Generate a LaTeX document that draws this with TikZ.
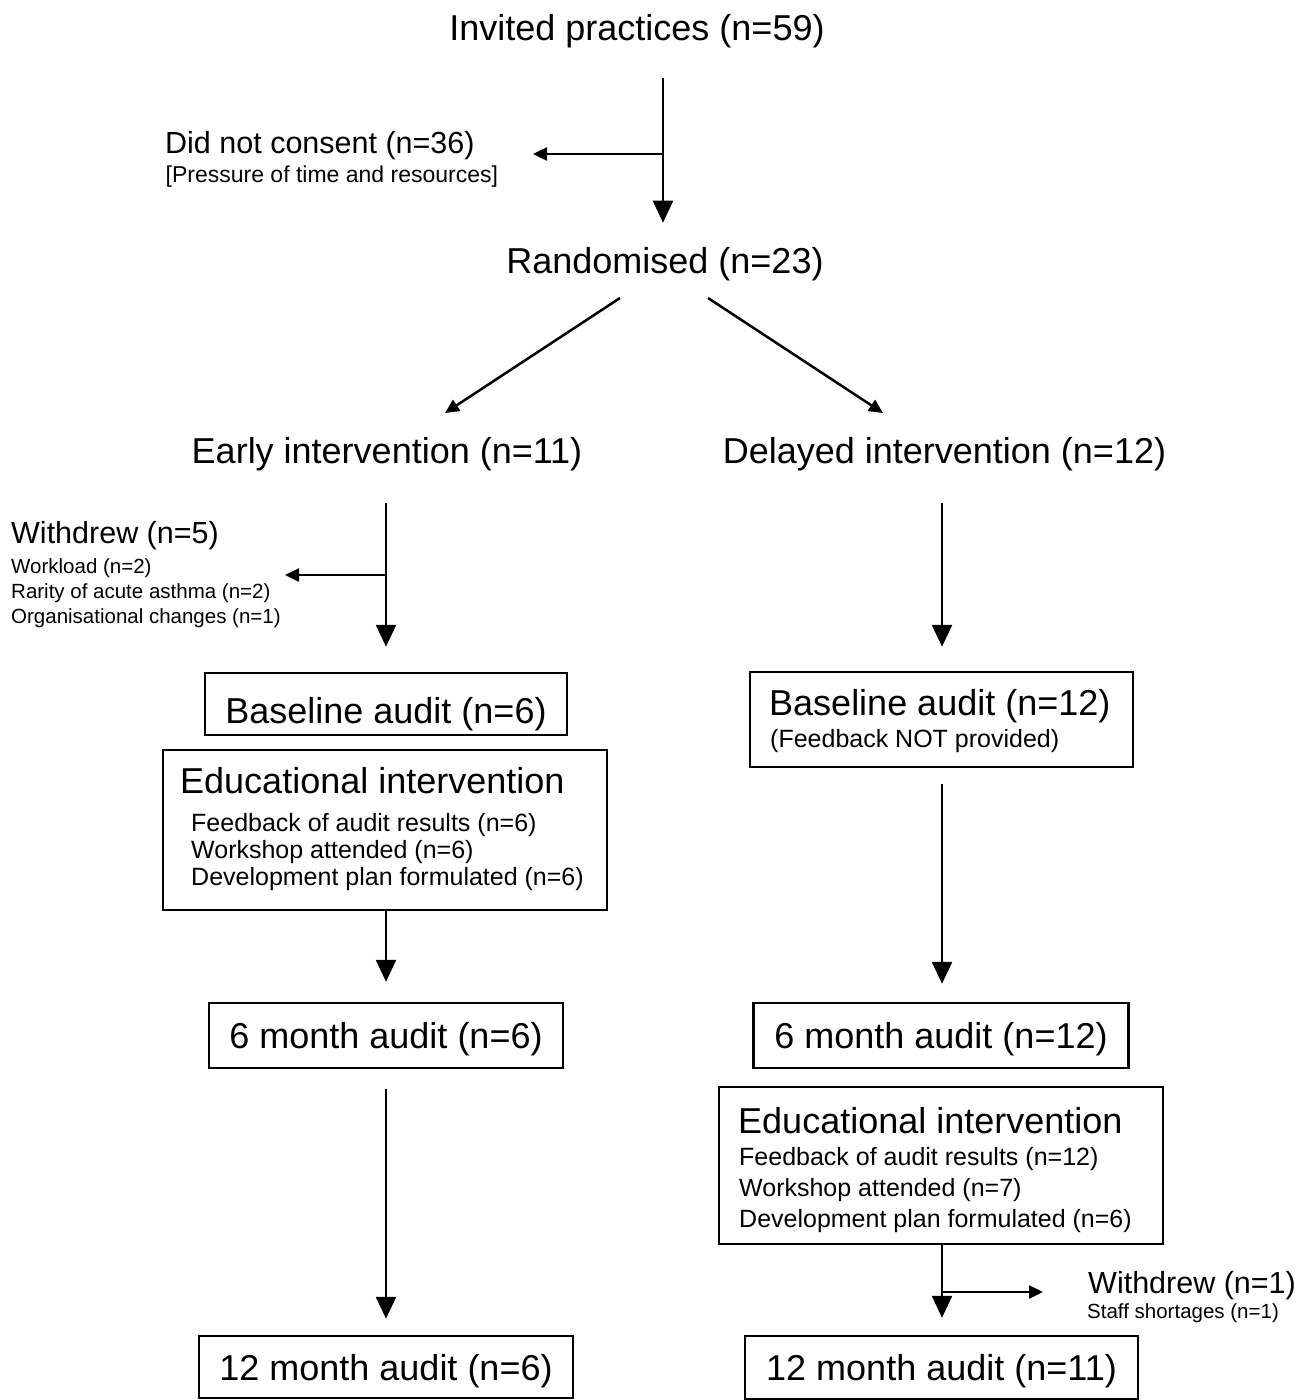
\documentclass[tikz,border=0pt]{standalone}
\usepackage{fontspec}
\setmainfont{Liberation Sans}
\usetikzlibrary{arrows.meta}
\tikzset{
  bigtxt/.style={font=\fontsize{36pt}{40pt}\selectfont, inner sep=0pt},
  midtxt/.style={font=\fontsize{30.5pt}{34pt}\selectfont, inner sep=0pt},
  listtxt/.style={font=\fontsize{25pt}{28pt}\selectfont, inner sep=0pt},
  whytxt/.style={font=\fontsize{23pt}{26pt}\selectfont, inner sep=0pt},
  smalltxt/.style={font=\fontsize{20.5pt}{24pt}\selectfont, inner sep=0pt},
  auditbox/.style={draw, line width=2.5pt, inner sep=0pt},
  arr/.style={line width=2.5pt, -{Triangle[length=22pt,width=20pt]}},
  sarr/.style={line width=2.5pt, -{Triangle[length=14pt,width=13pt]}}
}
\begin{document}
\begin{tikzpicture}[x=1pt,y=-1pt]
\useasboundingbox (0,0) rectangle (1311,1400);

\node[bigtxt, anchor=base] (invited) at (637,40) {Invited practices (n=59)};
\node[midtxt, anchor=base west] (nocons) at (165,153) {Did not consent (n=36)};
\node[whytxt, anchor=base west] (noconswhy) at (165.5,182) {[Pressure of time and resources]};
\node[bigtxt, anchor=base] (rand) at (665,273) {Randomised (n=23)};
\node[bigtxt, anchor=base] (early) at (387,463) {Early intervention (n=11)};
\node[bigtxt, anchor=base] (delayed) at (944.5,463) {Delayed intervention (n=12)};

\coordinate (t1) at (663,78);
\coordinate (t2) at (663,154);
\coordinate (t3) at (533,154);
\draw[arr, shorten >=24pt] (t1) -- (t1 |- rand.north);
\draw[sarr] (t2) -- (t3);
\draw[sarr] (620,298) coordinate (r1) -- (445,413) coordinate (r2);
\draw[sarr] (708,298) coordinate (r3) -- (883,413) coordinate (r4);

% early arm
\node[midtxt, anchor=base west] (wd5) at (11,543) {Withdrew (n=5)};
\foreach \txt [count=\i] in {Workload (n=2), Rarity of acute asthma (n=2), Organisational changes (n=1)}
  \node[smalltxt, anchor=base west] (why\i) at (11,548+25*\i) {\txt};

\node[auditbox, minimum width=362pt, minimum height=62pt] (base1) at (386,704) {};
\node[bigtxt, anchor=base] (base1txt) at (386,723) {Baseline audit (n=6)};
\node[auditbox, minimum width=444pt, minimum height=160pt] (edu1) at (385,830) {};
\node[bigtxt, anchor=base west] (edu1head) at (180,793) {Educational intervention};
\foreach \txt [count=\i] in {Feedback of audit results (n=6), Workshop attended (n=6), Development plan formulated (n=6)}
  \node[listtxt, anchor=base west] (edu1l\i) at (191,804+27*\i) {\txt};
\node[auditbox, minimum width=354pt, minimum height=65pt] (six1) at (386,1035.5) {};
\node[bigtxt, anchor=base] (six1txt) at (386,1048) {6 month audit (n=6)};
\node[auditbox, minimum width=374pt, minimum height=62pt] (twelve1) at (386,1367) {};
\node[bigtxt, anchor=base] (twelve1txt) at (386,1380) {12 month audit (n=6)};

\coordinate (e1) at (386,503);
\coordinate (e2) at (386,575);
\coordinate (e3) at (285,575);
\draw[arr, shorten >=25pt] (e1) -- (e1 |- base1.north);
\draw[sarr] (e2) -- (e3);
\draw[arr, shorten >=20pt] (edu1.south -| six1.north) -- (six1.north);
\draw[arr, shorten <=20pt, shorten >=16pt] (six1.south) -- (twelve1.north);

% delayed arm
\node[auditbox, minimum width=383pt, minimum height=95pt] (base2) at (941.5,719.5) {};
\node[bigtxt, anchor=base west] (base2txt) at (769,715) {Baseline audit (n=12)};
\node[listtxt, anchor=base west] (base2note) at (770,747) {(Feedback NOT provided)};
\node[auditbox, minimum width=375pt, minimum height=65pt] (six2) at (941,1035.5) {};
\node[bigtxt, anchor=base] (six2txt) at (941,1048) {6 month audit (n=12)};
\node[auditbox, minimum width=444pt, minimum height=157pt] (edu2) at (941,1165.5) {};
\node[bigtxt, anchor=base west] (edu2head) at (738,1133) {Educational intervention};
\foreach \txt [count=\i] in {Feedback of audit results (n=12), Workshop attended (n=7), Development plan formulated (n=6)}
  \node[listtxt, anchor=base west] (edu2l\i) at (739,1134+31*\i) {\txt};
\node[auditbox, minimum width=393pt, minimum height=63pt] (twelve2) at (941.5,1367.5) {};
\node[bigtxt, anchor=base] (twelve2txt) at (941.5,1380) {12 month audit (n=11)};
\node[midtxt, anchor=base west] (wd1) at (1088,1293) {Withdrew (n=1)};
\node[smalltxt, anchor=base west] (wd1why) at (1087,1318) {Staff shortages (n=1)};

\coordinate (d1) at (942,503);
\coordinate (d2) at (942,1292);
\coordinate (d3) at (1043,1292);
\draw[arr, shorten >=24pt] (d1) -- (d1 |- base2.north);
\draw[arr, shorten <=16pt, shorten >=18pt] (base2.south -| d1) -- (d1 |- six2.north);
\draw[arr, shorten >=17pt] (edu2.south -| d1) -- (d1 |- twelve2.north);
\draw[sarr] (d2) -- (d3);
\end{tikzpicture}
\end{document}
